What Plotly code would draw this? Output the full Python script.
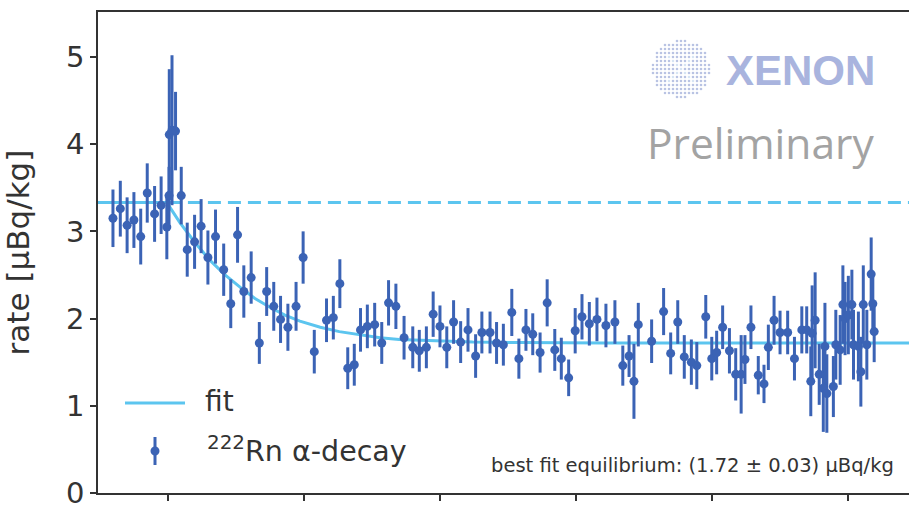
import plotly.graph_objects as go

# ---- data (x in days, arbitrary origin; y in µBq/kg) ----
days = [29.8, 32.5, 35.0, 37.5, 40.0, 42.4, 45.1, 47.5, 49.6, 50.4,
        50.5, 51.5, 52.8, 54.9, 57.1, 59.8, 62.2, 64.7, 67.5, 70.5,
        73.1, 75.6, 77.9, 80.6, 83.6, 86.3, 88.9, 91.4, 94.1, 97.1,
        99.7, 103.8, 108.3, 110.8, 113.2, 116.1, 118.5, 120.8, 123.3, 126.0,
        128.6, 131.1, 133.8, 136.8, 140.0, 142.4, 145.0, 147.5, 150.0, 152.5,
        155.0, 157.6, 160.3, 163.1, 165.4, 168.4, 170.8, 173.3, 176.4, 179.0,
        181.6, 184.1, 186.8, 189.4, 192.2, 194.6, 197.3, 199.7, 202.2, 204.9,
        207.7, 211.0, 214.3, 217.2, 219.5, 221.3, 222.9, 227.8, 232.2, 234.8,
        237.4, 239.8, 242.4, 244.4, 247.7, 249.9, 251.7, 253.9, 256.4, 258.7,
        260.7, 262.1, 264.3, 267.0, 269.1, 270.7, 272.8, 275.0, 277.8, 280.3,
        283.0, 284.8, 286.3, 286.8, 287.9, 289.4, 290.9, 291.5, 292.2, 294.6,
        295.5, 297.1, 298.1, 298.9, 300.1, 301.4, 302.0, 303.8, 304.7, 305.6,
        306.9, 308.5, 309.1, 309.6]
rate = [3.15, 3.26, 3.07, 3.13, 2.94, 3.44, 3.20, 3.30, 3.05, 3.41,
        4.11, 4.16, 4.15, 3.41, 2.79, 2.88, 3.06, 2.70, 2.94, 2.56,
        2.17, 2.96, 2.31, 2.47, 1.72, 2.31, 2.14, 1.99, 1.90, 2.14,
        2.70, 1.62, 1.98, 2.01, 2.40, 1.43, 1.47, 1.87, 1.91, 1.93,
        1.72, 2.18, 2.14, 1.78, 1.67, 1.63, 1.67, 2.05, 1.91, 1.67,
        1.96, 1.73, 1.87, 1.57, 1.84, 1.84, 1.72, 1.70, 2.07, 1.54,
        1.87, 1.82, 1.61, 2.18, 1.64, 1.54, 1.32, 1.86, 2.02, 1.94,
        1.99, 1.92, 1.96, 1.46, 1.57, 1.28, 1.93, 1.74, 2.08, 1.60,
        1.96, 1.56, 1.50, 1.46, 2.02, 1.54, 1.61, 1.90, 1.63, 1.36,
        1.36, 1.53, 1.90, 1.35, 1.25, 1.67, 1.98, 1.84, 1.84, 1.54,
        1.87, 1.87, 1.28, 1.83, 1.98, 1.36, 1.20, 1.68, 1.14, 1.22,
        1.70, 1.64, 2.16, 2.00, 2.04, 2.16, 1.70, 1.68, 1.39, 2.16,
        1.70, 2.51, 2.17, 1.85]
rate_err = [0.33, 0.32, 0.32, 0.32, 0.32, 0.34, 0.32, 0.33, 0.37, 0.33,
            0.75, 0.86, 0.45, 0.33, 0.31, 0.31, 0.31, 0.31, 0.31, 0.30,
            0.28, 0.32, 0.30, 0.30, 0.24, 0.28, 0.28, 0.27, 0.27, 0.28,
            0.30, 0.25, 0.25, 0.25, 0.28, 0.24, 0.24, 0.25, 0.25, 0.25,
            0.24, 0.26, 0.26, 0.25, 0.24, 0.24, 0.24, 0.26, 0.24, 0.24,
            0.25, 0.24, 0.25, 0.25, 0.24, 0.24, 0.24, 0.24, 0.27, 0.23,
            0.24, 0.24, 0.23, 0.27, 0.24, 0.24, 0.21, 0.26, 0.26, 0.25,
            0.25, 0.25, 0.25, 0.23, 0.24, 0.43, 0.25, 0.25, 0.27, 0.24,
            0.25, 0.25, 0.26, 0.27, 0.25, 0.25, 0.25, 0.25, 0.26, 0.30,
            0.45, 0.28, 0.25, 0.22, 0.22, 0.26, 0.28, 0.25, 0.25, 0.25,
            0.27, 0.27, 0.40, 0.55, 0.55, 0.35, 0.50, 0.50, 0.45, 0.35,
            0.40, 0.40, 0.45, 0.42, 0.45, 0.40, 0.40, 0.40, 0.40, 0.45,
            0.40, 0.42, 0.35, 0.35]

# fit curve
fit_x = [24.3, 49.6, 54.4, 60.0, 65.4, 71.0, 76.5, 82.0, 87.5, 93.0,
         98.5, 106.0, 113.0, 121.0, 128.0, 135.0, 147.0, 162.0, 180.0, 210.0, 322.4]
fit_y = [3.33, 3.33, 3.10, 2.87, 2.67, 2.50, 2.36, 2.23, 2.13, 2.04,
         1.97, 1.90, 1.85, 1.81, 1.78, 1.76, 1.745, 1.73, 1.725, 1.72, 1.72]
initial_level = 3.33
dash_start = 50.0

x_ticks = [50, 100, 150, 200, 250, 300]
y_ticks = [0, 1, 2, 3, 4, 5]

POINT_COLOR = "#3b63b5"
FIT_COLOR = "#5cc5ef"
TEXT_COLOR = "#333333"

fig = go.Figure()
fig.add_trace(go.Scatter(x=fit_x, y=fit_y, mode="lines",
                         line=dict(color=FIT_COLOR, width=3), showlegend=False))
fig.add_trace(go.Scatter(x=[dash_start, 322.4], y=[initial_level, initial_level], mode="lines",
                         line=dict(color=FIT_COLOR, width=3, dash="13px,7px"), showlegend=False))
fig.add_trace(go.Scatter(x=days, y=rate, mode="markers",
                         marker=dict(color=POINT_COLOR, size=9),
                         error_y=dict(type="data", array=rate_err, color=POINT_COLOR,
                                      thickness=3, width=0),
                         showlegend=False))

# ---- layout geometry ----
L, T, W, H = 98, 12, 909, 505
PW, PH = W - L, 493 - T


def px(xp):
    return (xp - L) / PW


def py(yp):
    return (493 - yp) / PH


shapes = []
# manual legend
shapes.append(dict(type="line", xref="paper", yref="paper",
                   x0=px(125), x1=px(185), y0=py(403), y1=py(403),
                   line=dict(color=FIT_COLOR, width=3)))
shapes.append(dict(type="line", xref="paper", yref="paper",
                   x0=px(155), x1=px(155), y0=py(437), y1=py(465),
                   line=dict(color=POINT_COLOR, width=3)))
shapes.append(dict(type="circle", xref="paper", yref="paper",
                   x0=px(150.5), x1=px(159.5), y0=py(446.5), y1=py(455.5),
                   fillcolor=POINT_COLOR, line=dict(width=0)))

# XENON logo (decorative dotted disc)
cx, cy, rad, step = 681, 69, 29, 4
for i in range(-8, 9):
    for j in range(-8, 9):
        dx, dy = i * step, j * step
        if dx * dx + dy * dy <= rad * rad:
            inner = abs(abs(dx) - abs(dy)) < 3 and dx * dx + dy * dy < 300
            col = "#d6e4f3" if inner else "#b9c3e3"
            shapes.append(dict(type="circle", xref="paper", yref="paper",
                               x0=px(cx + dx - 1.3), x1=px(cx + dx + 1.3),
                               y0=py(cy + dy + 1.3), y1=py(cy + dy - 1.3),
                               fillcolor=col, line=dict(width=0), layer="below"))

annotations = [
    dict(xref="paper", yref="paper", x=px(203), y=py(402), xanchor="left", yanchor="middle",
         text="fit", showarrow=False, font=dict(size=28, color=TEXT_COLOR)),
    dict(xref="paper", yref="paper", x=px(205), y=py(449), xanchor="left", yanchor="middle",
         text="<sup>222</sup>Rn α-decay", showarrow=False, font=dict(size=28.5, color=TEXT_COLOR)),
    dict(xref="paper", yref="paper", x=px(896), y=py(465), xanchor="right", yanchor="middle",
         text="best fit equilibrium: (1.72 ± 0.03) μBq/kg", showarrow=False,
         font=dict(size=19.5, color=TEXT_COLOR)),
    dict(xref="paper", yref="paper", x=px(724), y=py(70), xanchor="left", yanchor="middle",
         text="<b>XENON</b>", showarrow=False,
         font=dict(size=42, color="#a9b4de", family="Liberation Sans")),
    dict(xref="paper", yref="paper", x=px(645), y=py(143), xanchor="left", yanchor="middle",
         text="Preliminary", showarrow=False,
         font=dict(size=42.5, color="#a3a3a3", family="Open Sans")),
]

fig.update_layout(
    width=W, height=H,
    margin=dict(l=L, r=0, t=T, b=H - 493, autoexpand=False),
    paper_bgcolor="white", plot_bgcolor="white",
    font=dict(family="DejaVu Sans", color=TEXT_COLOR),
    shapes=shapes, annotations=annotations,
    showlegend=False,
)
fig.update_xaxes(range=[24.3, 322.4], tickvals=x_ticks, showticklabels=False,
                 ticks="outside", ticklen=6, tickwidth=1.5, tickcolor=TEXT_COLOR,
                 showline=True, linecolor=TEXT_COLOR, linewidth=1.5, mirror=True,
                 showgrid=False, zeroline=False, automargin=False)
fig.update_yaxes(range=[-0.001, 5.516], tickvals=y_ticks, ticktext=[str(v) for v in y_ticks],
                 ticks="outside", ticklen=6, tickwidth=1.5, tickcolor=TEXT_COLOR,
                 tickfont=dict(size=29, color=TEXT_COLOR), ticklabeloverflow="allow",
                 showline=True, linecolor=TEXT_COLOR, linewidth=1.5, mirror=False,
                 showgrid=False, zeroline=False, automargin=False,
                 title=dict(text="rate [μBq/kg]", font=dict(size=31, color=TEXT_COLOR), standoff=27))

fig.write_html("out.html")
